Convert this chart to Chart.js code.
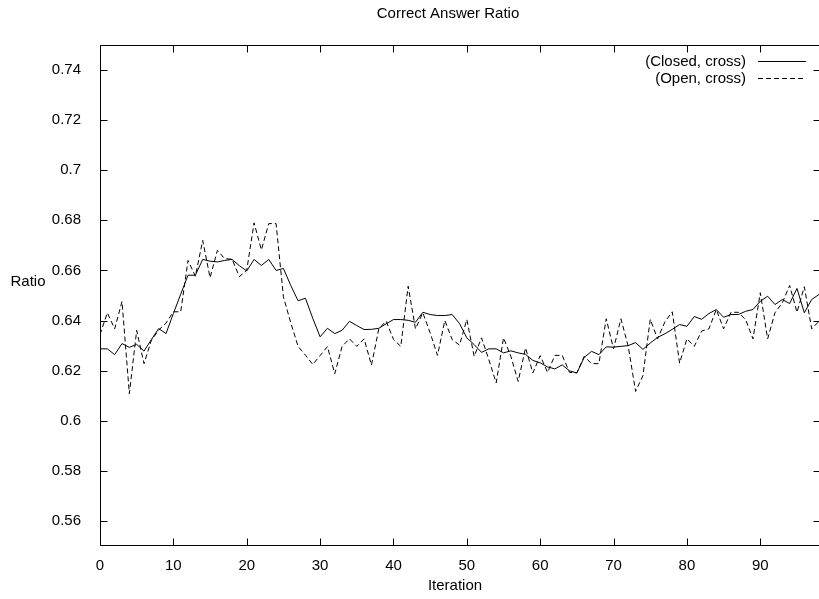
<!DOCTYPE html>
<html>
<head>
<meta charset="utf-8">
<script src="https://cdn.jsdelivr.net/npm/chart.js@4.4.1/dist/chart.umd.min.js"></script>
<style>
    body { margin: 0; background: #fff; }
    canvas { display: block; }
</style>
</head>
<body>
<canvas id="ratioChart" width="819" height="599"></canvas>
<script>
const iterations = [
    0, 1, 2, 3, 4, 5, 6, 7, 8, 9, 10, 11, 12, 13, 14, 15, 16, 17, 18, 19,
    20, 21, 22, 23, 24, 25, 26, 27, 28, 29, 30, 31, 32, 33, 34, 35, 36, 37, 38, 39,
    40, 41, 42, 43, 44, 45, 46, 47, 48, 49, 50, 51, 52, 53, 54, 55, 56, 57, 58, 59,
    60, 61, 62, 63, 64, 65, 66, 67, 68, 69, 70, 71, 72, 73, 74, 75, 76, 77, 78, 79,
    80, 81, 82, 83, 84, 85, 86, 87, 88, 89, 90, 91, 92, 93, 94, 95, 96, 97, 98
];

const closedCross = [
    0.6287, 0.6287, 0.6264, 0.6308, 0.6293, 0.6305, 0.6278, 0.6324, 0.6368, 0.6348,
    0.6428, 0.6505, 0.6581, 0.6581, 0.6644, 0.6637, 0.6634, 0.6640, 0.6644, 0.6619,
    0.6598, 0.6644, 0.6620, 0.6644, 0.6600, 0.6608, 0.6540, 0.6479, 0.6489, 0.6409,
    0.6335, 0.6369, 0.6348, 0.6361, 0.6397, 0.6380, 0.6364, 0.6365, 0.6369, 0.6387,
    0.6404, 0.6404, 0.6401, 0.6393, 0.6433, 0.6424, 0.6420, 0.6420, 0.6424, 0.6388,
    0.6331, 0.6304, 0.6273, 0.6287, 0.6287, 0.6271, 0.6279, 0.6271, 0.6265, 0.6241,
    0.6231, 0.6215, 0.6207, 0.6223, 0.6199, 0.6191, 0.6253, 0.6277, 0.6264, 0.6295,
    0.6294, 0.6297, 0.6300, 0.6312, 0.6285, 0.6310, 0.6333, 0.6347, 0.6365, 0.6384,
    0.6377, 0.6416, 0.6405, 0.6428, 0.6444, 0.6413, 0.6424, 0.6424, 0.6437, 0.6444,
    0.6477, 0.6497, 0.6464, 0.6484, 0.6468, 0.6528, 0.6431, 0.6484, 0.6504
];

const openCross = [
    0.6344, 0.6431, 0.6367, 0.6476, 0.6108, 0.6361, 0.6228, 0.6321, 0.6362, 0.6390,
    0.6435, 0.6435, 0.6640, 0.6577, 0.6720, 0.6571, 0.6680, 0.6647, 0.6645, 0.6575,
    0.6601, 0.6790, 0.6682, 0.6787, 0.6787, 0.6495, 0.6391, 0.6297, 0.6262, 0.6225,
    0.6260, 0.6296, 0.6188, 0.6297, 0.6327, 0.6297, 0.6327, 0.6222, 0.6367, 0.6398,
    0.6325, 0.6297, 0.6537, 0.6367, 0.6431, 0.6351, 0.6261, 0.6400, 0.6324, 0.6302,
    0.6404, 0.6257, 0.6331, 0.6244, 0.6151, 0.6331, 0.6257, 0.6157, 0.6291, 0.6191,
    0.6260, 0.6193, 0.6261, 0.6261, 0.6193, 0.6191, 0.6257, 0.6228, 0.6228, 0.6407,
    0.6287, 0.6407, 0.6297, 0.6117, 0.6180, 0.6405, 0.6327, 0.6395, 0.6435, 0.6230,
    0.6327, 0.6297, 0.6358, 0.6367, 0.6444, 0.6367, 0.6433, 0.6433, 0.6404, 0.6327,
    0.6511, 0.6327, 0.6431, 0.6471, 0.6540, 0.6433, 0.6535, 0.6367, 0.6397
];

const xTicks = [0, 10, 20, 30, 40, 50, 60, 70, 80, 90];
const yTicks = [0.56, 0.58, 0.60, 0.62, 0.64, 0.66, 0.68, 0.70, 0.72, 0.74];
const yTickLabels = ["0.56", "0.58", "0.6", "0.62", "0.64", "0.66", "0.68", "0.7", "0.72", "0.74"];

const FONT = "Liberation Sans, Arial, Helvetica, sans-serif";

function toPoints(values) {
    return values.map(function (v, i) {
        return { x: iterations[i], y: v };
    });
}

// gnuplot-like frame: border, inward ticks (mirrored), title, labels, key
const framePlugin = {
    id: "gnuplotFrame",
    afterDatasetsDraw: function (chart) {
        const ctx = chart.ctx;
        const area = chart.chartArea;
        const xs = chart.scales.x;
        const ys = chart.scales.y;
        const left = Math.round(area.left) + 0.5;
        const right = Math.round(area.right) - 0.5;
        const top = Math.round(area.top) + 0.5;
        const bottom = Math.round(area.bottom) - 0.5;
        const tick = 7;

        ctx.save();
        ctx.strokeStyle = "#000";
        ctx.lineWidth = 1;
        ctx.setLineDash([]);
        ctx.beginPath();
        // right edge of the frame falls just outside the picture
        ctx.moveTo(right + 1, top);
        ctx.lineTo(left, top);
        ctx.lineTo(left, bottom);
        ctx.lineTo(right + 1, bottom);

        xTicks.forEach(function (v) {
            const px = Math.round(xs.getPixelForValue(v)) + 0.5;
            ctx.moveTo(px, bottom);
            ctx.lineTo(px, bottom - tick);
            ctx.moveTo(px, top);
            ctx.lineTo(px, top + tick);
        });
        yTicks.forEach(function (v) {
            const py = Math.round(ys.getPixelForValue(v)) + 0.5;
            ctx.moveTo(left, py);
            ctx.lineTo(left + tick, py);
            ctx.moveTo(right + 1, py);
            ctx.lineTo(right - tick + 2, py);
        });
        ctx.stroke();

        ctx.fillStyle = "#000";
        ctx.font = "15px " + FONT;
        ctx.textBaseline = "middle";

        ctx.textAlign = "center";
        ctx.fillText("Correct Answer Ratio", 448, 14);
        ctx.fillText("Iteration", 455, 586);
        ctx.fillText("Ratio", 28, 282);

        // key
        ctx.textAlign = "right";
        ctx.fillText("(Closed, cross)", 746, 62);
        ctx.fillText("(Open, cross)", 746, 79);
        ctx.beginPath();
        ctx.moveTo(758, 61.5);
        ctx.lineTo(806, 61.5);
        ctx.stroke();
        ctx.setLineDash([5, 3]);
        ctx.beginPath();
        ctx.moveTo(758, 78.5);
        ctx.lineTo(806, 78.5);
        ctx.stroke();
        ctx.restore();
    }
};

new Chart(document.getElementById("ratioChart"), {
    type: "line",
    data: {
        datasets: [
            {
                label: "(Closed, cross)",
                data: toPoints(closedCross),
                borderColor: "#000",
                borderWidth: 1,
                pointRadius: 0,
                tension: 0,
            },
            {
                label: "(Open, cross)",
                data: toPoints(openCross),
                borderColor: "#000",
                borderWidth: 1,
                borderDash: [5, 3],
                pointRadius: 0,
                tension: 0,
            },
        ],
    },
    options: {
        responsive: false,
        animation: false,
        layout: {
            padding: { top: 45, left: 0, right: 0, bottom: 0 },
        },
        plugins: {
            legend: { display: false },
            title: { display: false },
            tooltip: { enabled: false },
        },
        scales: {
            x: {
                type: "linear",
                min: 0,
                max: 98,
                grid: { display: false },
                border: { display: false },
                afterBuildTicks: function (scale) {
                    scale.ticks = xTicks.map(function (v) { return { value: v }; });
                },
                afterFit: function (scale) {
                    scale.height = 53;
                },
                ticks: {
                    color: "#000",
                    padding: 3,
                    maxRotation: 0,
                    font: { family: FONT, size: 15 },
                },
            },
            y: {
                type: "linear",
                min: 0.55,
                max: 0.75,
                grid: { display: false },
                border: { display: false },
                afterBuildTicks: function (scale) {
                    scale.ticks = yTicks.map(function (v) { return { value: v }; });
                },
                afterFit: function (scale) {
                    scale.width = 100;
                },
                ticks: {
                    color: "#000",
                    padding: 11,
                    font: { family: FONT, size: 15 },
                    callback: function (value, index) {
                        return yTickLabels[index];
                    },
                },
            },
        },
    },
    plugins: [framePlugin],
});
</script>
</body>
</html>
